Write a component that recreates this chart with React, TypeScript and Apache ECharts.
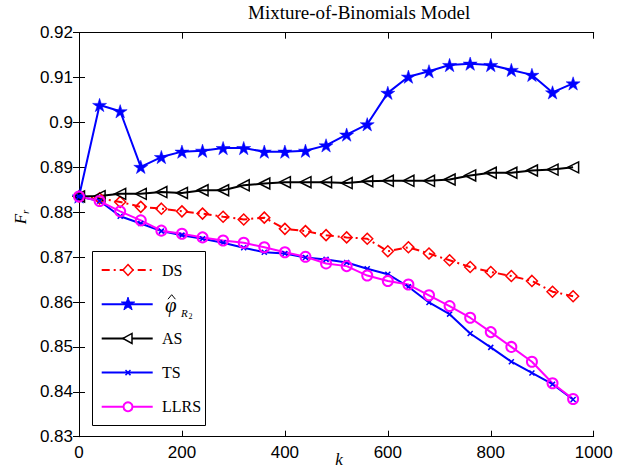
import { useEffect, useRef } from "react";
import * as echarts from "echarts";

// Sample sizes k on the horizontal axis
const kValues = [0, 40, 80, 120, 160, 200, 240, 280, 320, 360, 400, 440, 480, 520, 560, 600, 640, 680, 720, 760, 800, 840, 880, 920, 960];

// F_r for each method
const dsValues = [0.8835, 0.8831, 0.8823, 0.8812, 0.8808, 0.8802, 0.8797, 0.879, 0.8784, 0.8788, 0.8763, 0.8758, 0.8749, 0.8744, 0.8741, 0.8713, 0.8722, 0.8708, 0.8693, 0.8678, 0.8667, 0.8658, 0.8647, 0.8623, 0.8613];
const phiValues = [0.8835, 0.9039, 0.9025, 0.8901, 0.8923, 0.8935, 0.8937, 0.8943, 0.8943, 0.8935, 0.8935, 0.8937, 0.8949, 0.8973, 0.8996, 0.9066, 0.9102, 0.9114, 0.9128, 0.9131, 0.9128, 0.9117, 0.9106, 0.9067, 0.9087];
const asValues = [0.8835, 0.8836, 0.8841, 0.8841, 0.8845, 0.8843, 0.8849, 0.8849, 0.886, 0.8864, 0.8867, 0.8867, 0.8867, 0.8865, 0.8869, 0.887, 0.887, 0.887, 0.8873, 0.8882, 0.8888, 0.8888, 0.8893, 0.8895, 0.89];
const tsValues = [0.8835, 0.8825, 0.8791, 0.8775, 0.8758, 0.8749, 0.8741, 0.8732, 0.8721, 0.8711, 0.8708, 0.8699, 0.8695, 0.8688, 0.8674, 0.8662, 0.8634, 0.8599, 0.8573, 0.853, 0.8499, 0.8467, 0.8442, 0.8417, 0.8383];
const llrsValues = [0.8835, 0.8825, 0.8802, 0.8782, 0.8759, 0.8752, 0.8744, 0.8737, 0.8732, 0.8722, 0.8711, 0.8701, 0.8686, 0.868, 0.8659, 0.8647, 0.8639, 0.8615, 0.8591, 0.8565, 0.8533, 0.85, 0.8467, 0.8419, 0.8384];

const legendNames = ["DS", "phi", "AS", "TS", "LLRS"];

const SERIF = '"Liberation Serif", "Times New Roman", serif';
const SANS = '"Liberation Sans", Arial, sans-serif';
const CLEAR = "rgba(255,255,255,0)";

// Five-pointed star outline around (cx, cy)
function starPoints(cx: number, cy: number, R: number, r: number): number[][] {
  const pts: number[][] = [];
  for (let i = 0; i < 10; i++) {
    const a = -Math.PI / 2 + (i * Math.PI) / 5;
    const rad = i % 2 === 0 ? R : r;
    pts.push([cx + rad * Math.cos(a), cy + rad * Math.sin(a)]);
  }
  return pts;
}

const starSymbol =
  "path://" +
  starPoints(50, 50, 50, 19)
    .map((p, i) => (i === 0 ? "M" : "L") + p[0].toFixed(2) + "," + p[1].toFixed(2))
    .join("") +
  "Z";

const crossSymbol = "path://M0,0L10,10M10,0L0,10";

function pairs(values: number[]) {
  return kValues.map((k, i) => [k, values[i]]);
}

function legendMarker(name: string, cx: number, cy: number): any[] {
  switch (name) {
    case "DS":
      return [{
        type: "polygon",
        shape: { points: [[cx, cy - 5.5], [cx + 5, cy], [cx, cy + 5.5], [cx - 5, cy]] },
        style: { fill: "#fff", stroke: "#ff0000", lineWidth: 1.5 },
      }];
    case "phi":
      return [{
        type: "polygon",
        shape: { points: starPoints(cx, cy, 7, 2.7) },
        style: { fill: "#0000ff", stroke: "#0000ff", lineWidth: 1 },
      }];
    case "AS":
      return [{
        type: "polygon",
        shape: { points: [[cx - 5, cy], [cx + 4, cy - 5], [cx + 4, cy + 5]] },
        style: { fill: "#fff", stroke: "#000", lineWidth: 1.5 },
      }];
    case "TS":
      return [
        { type: "line", shape: { x1: cx - 2.5, y1: cy - 2.5, x2: cx + 2.5, y2: cy + 2.5 }, style: { stroke: "#0000ff", lineWidth: 1.5 } },
        { type: "line", shape: { x1: cx + 2.5, y1: cy - 2.5, x2: cx - 2.5, y2: cy + 2.5 }, style: { stroke: "#0000ff", lineWidth: 1.5 } },
      ];
    default:
      return [{
        type: "circle",
        shape: { cx, cy, r: 4.5 },
        style: { fill: "#fff", stroke: "#ff00ff", lineWidth: 2 },
      }];
  }
}

const legendColors: Record<string, string> = { DS: "#ff0000", phi: "#0000ff", AS: "#000000", TS: "#0000ff", LLRS: "#ff00ff" };

function legendText(name: string, cy: number): any[] {
  const base = { type: "text", z: 102 };
  if (name !== "phi") {
    return [{
      ...base, x: 162, y: cy,
      style: { text: name, fill: "#000", font: "16px " + SERIF, verticalAlign: "middle" },
    }];
  }
  // φ with a hat and the subscript R₂
  return [
    { ...base, x: 165, y: cy + 1, style: { text: "φ", fill: "#000", font: "italic 21px " + SERIF, verticalAlign: "middle" } },
    { type: "polyline", z: 102, shape: { points: [[168, cy - 5], [171.7, cy - 9.5], [175.4, cy - 5]] }, style: { stroke: "#000", lineWidth: 1, fill: null } },
    { ...base, x: 181, y: cy + 9, style: { text: "R", fill: "#000", font: "italic 11px " + SERIF, verticalAlign: "middle" } },
    { ...base, x: 188.5, y: cy + 12, style: { text: "2", fill: "#000", font: "8px " + SERIF, verticalAlign: "middle" } },
  ];
}

function buildLegend(): any[] {
  const els: any[] = [{
    type: "rect",
    shape: { x: 92.5, y: 251.5, width: 113, height: 174 },
    style: { fill: "#fff", stroke: "#000", lineWidth: 1 },
    z: 100,
  }];
  legendNames.forEach((name, i) => {
    const cy = 270 + i * 34.2;
    els.push({
      type: "line",
      shape: { x1: 101.7, y1: cy, x2: 152.7, y2: cy },
      style: { stroke: legendColors[name], lineWidth: 2, lineDash: name === "DS" ? [8, 4, 2, 4] : null },
      z: 101,
    });
    legendMarker(name, 128, cy).forEach((m) => els.push({ ...m, z: 102 }));
    legendText(name, cy).forEach((t) => els.push(t));
  });
  return els;
}

const yTickLabel = (v: number) => String(parseFloat(v.toFixed(2)));
const xTickLabel = (v: number) => String(Math.round(v));

const axisLine = { show: true, lineStyle: { color: "#000", width: 1 } };
const axisTick = { show: true, inside: true, length: 6, lineStyle: { color: "#000", width: 1 } };

export default function App() {
  const ref = useRef<HTMLDivElement>(null);

  useEffect(() => {
    const chart = echarts.init(ref.current!, null, { renderer: "svg" });
    chart.setOption({
      animation: false,
      backgroundColor: "#fff",
      title: {
        text: "Mixture-of-Binomials Model",
        left: 248,
        top: 3,
        padding: 0,
        textStyle: { fontFamily: SERIF, fontSize: 19, fontWeight: "normal", color: "#000" },
      },
      grid: { left: 79, right: 23.3, top: 32.7, bottom: 33.3, containLabel: false },
      xAxis: [
        {
          type: "value", min: 0, max: 1000, interval: 200, position: "bottom",
          axisLine, axisTick, splitLine: { show: false },
          axisLabel: { margin: 7, fontSize: 17, fontFamily: SANS, color: "#000", formatter: xTickLabel },
        },
        {
          type: "value", min: 0, max: 1000, interval: 200, position: "top",
          axisLine, axisTick, splitLine: { show: false }, axisLabel: { show: false },
        },
      ],
      yAxis: [
        {
          type: "value", min: 0.83, max: 0.92, interval: 0.01, position: "left",
          axisLine, axisTick, splitLine: { show: false },
          axisLabel: { margin: 6, fontSize: 17, fontFamily: SANS, color: "#000", formatter: yTickLabel },
        },
        {
          type: "value", min: 0.83, max: 0.92, interval: 0.01, position: "right",
          axisLine, axisTick, splitLine: { show: false }, axisLabel: { show: false },
        },
      ],
      series: [
        {
          name: "DS", type: "line", data: pairs(dsValues),
          symbol: "diamond", symbolSize: 11,
          lineStyle: { color: "#ff0000", width: 2, type: [8, 4, 2, 4] },
          itemStyle: { color: CLEAR, borderColor: "#ff0000", borderWidth: 1.5 },
        },
        {
          name: "phi", type: "line", data: pairs(phiValues),
          symbol: starSymbol, symbolSize: 14, symbolKeepAspect: true,
          lineStyle: { color: "#0000ff", width: 2 },
          itemStyle: { color: "#0000ff", borderColor: "#0000ff", borderWidth: 0.5 },
        },
        {
          name: "AS", type: "line", data: pairs(asValues),
          symbol: "triangle", symbolRotate: 90, symbolSize: 11,
          lineStyle: { color: "#000", width: 2 },
          itemStyle: { color: CLEAR, borderColor: "#000", borderWidth: 1.5 },
        },
        {
          name: "TS", type: "line", data: pairs(tsValues),
          symbol: crossSymbol, symbolSize: 5,
          lineStyle: { color: "#0000ff", width: 2 },
          itemStyle: { color: CLEAR, borderColor: "#0000ff", borderWidth: 1.5 },
        },
        {
          name: "LLRS", type: "line", data: pairs(llrsValues),
          symbol: "circle", symbolSize: 10,
          lineStyle: { color: "#ff00ff", width: 2 },
          itemStyle: { color: CLEAR, borderColor: "#ff00ff", borderWidth: 2 },
        },
      ],
      graphic: [
        ...buildLegend(),
        {
          type: "text", x: 339, y: 459, z: 50,
          style: { text: "k", fill: "#000", font: "italic 17px " + SERIF, align: "center", verticalAlign: "middle" },
        },
        {
          type: "text", x: 20, y: 217, rotation: Math.PI / 2, z: 50,
          style: {
            text: "{F|F}{r|r}", fill: "#000", align: "center", verticalAlign: "middle",
            rich: {
              F: { fontSize: 17, fontStyle: "italic", fontFamily: SERIF, lineHeight: 20 },
              r: { fontSize: 11, fontStyle: "italic", fontFamily: SERIF, verticalAlign: "bottom" },
            },
          },
        },
      ],
    });
    return () => chart.dispose();
  }, []);

  return <div ref={ref} style={{ position: "absolute", left: 0, top: 0, width: 617, height: 470 }} />;
}
